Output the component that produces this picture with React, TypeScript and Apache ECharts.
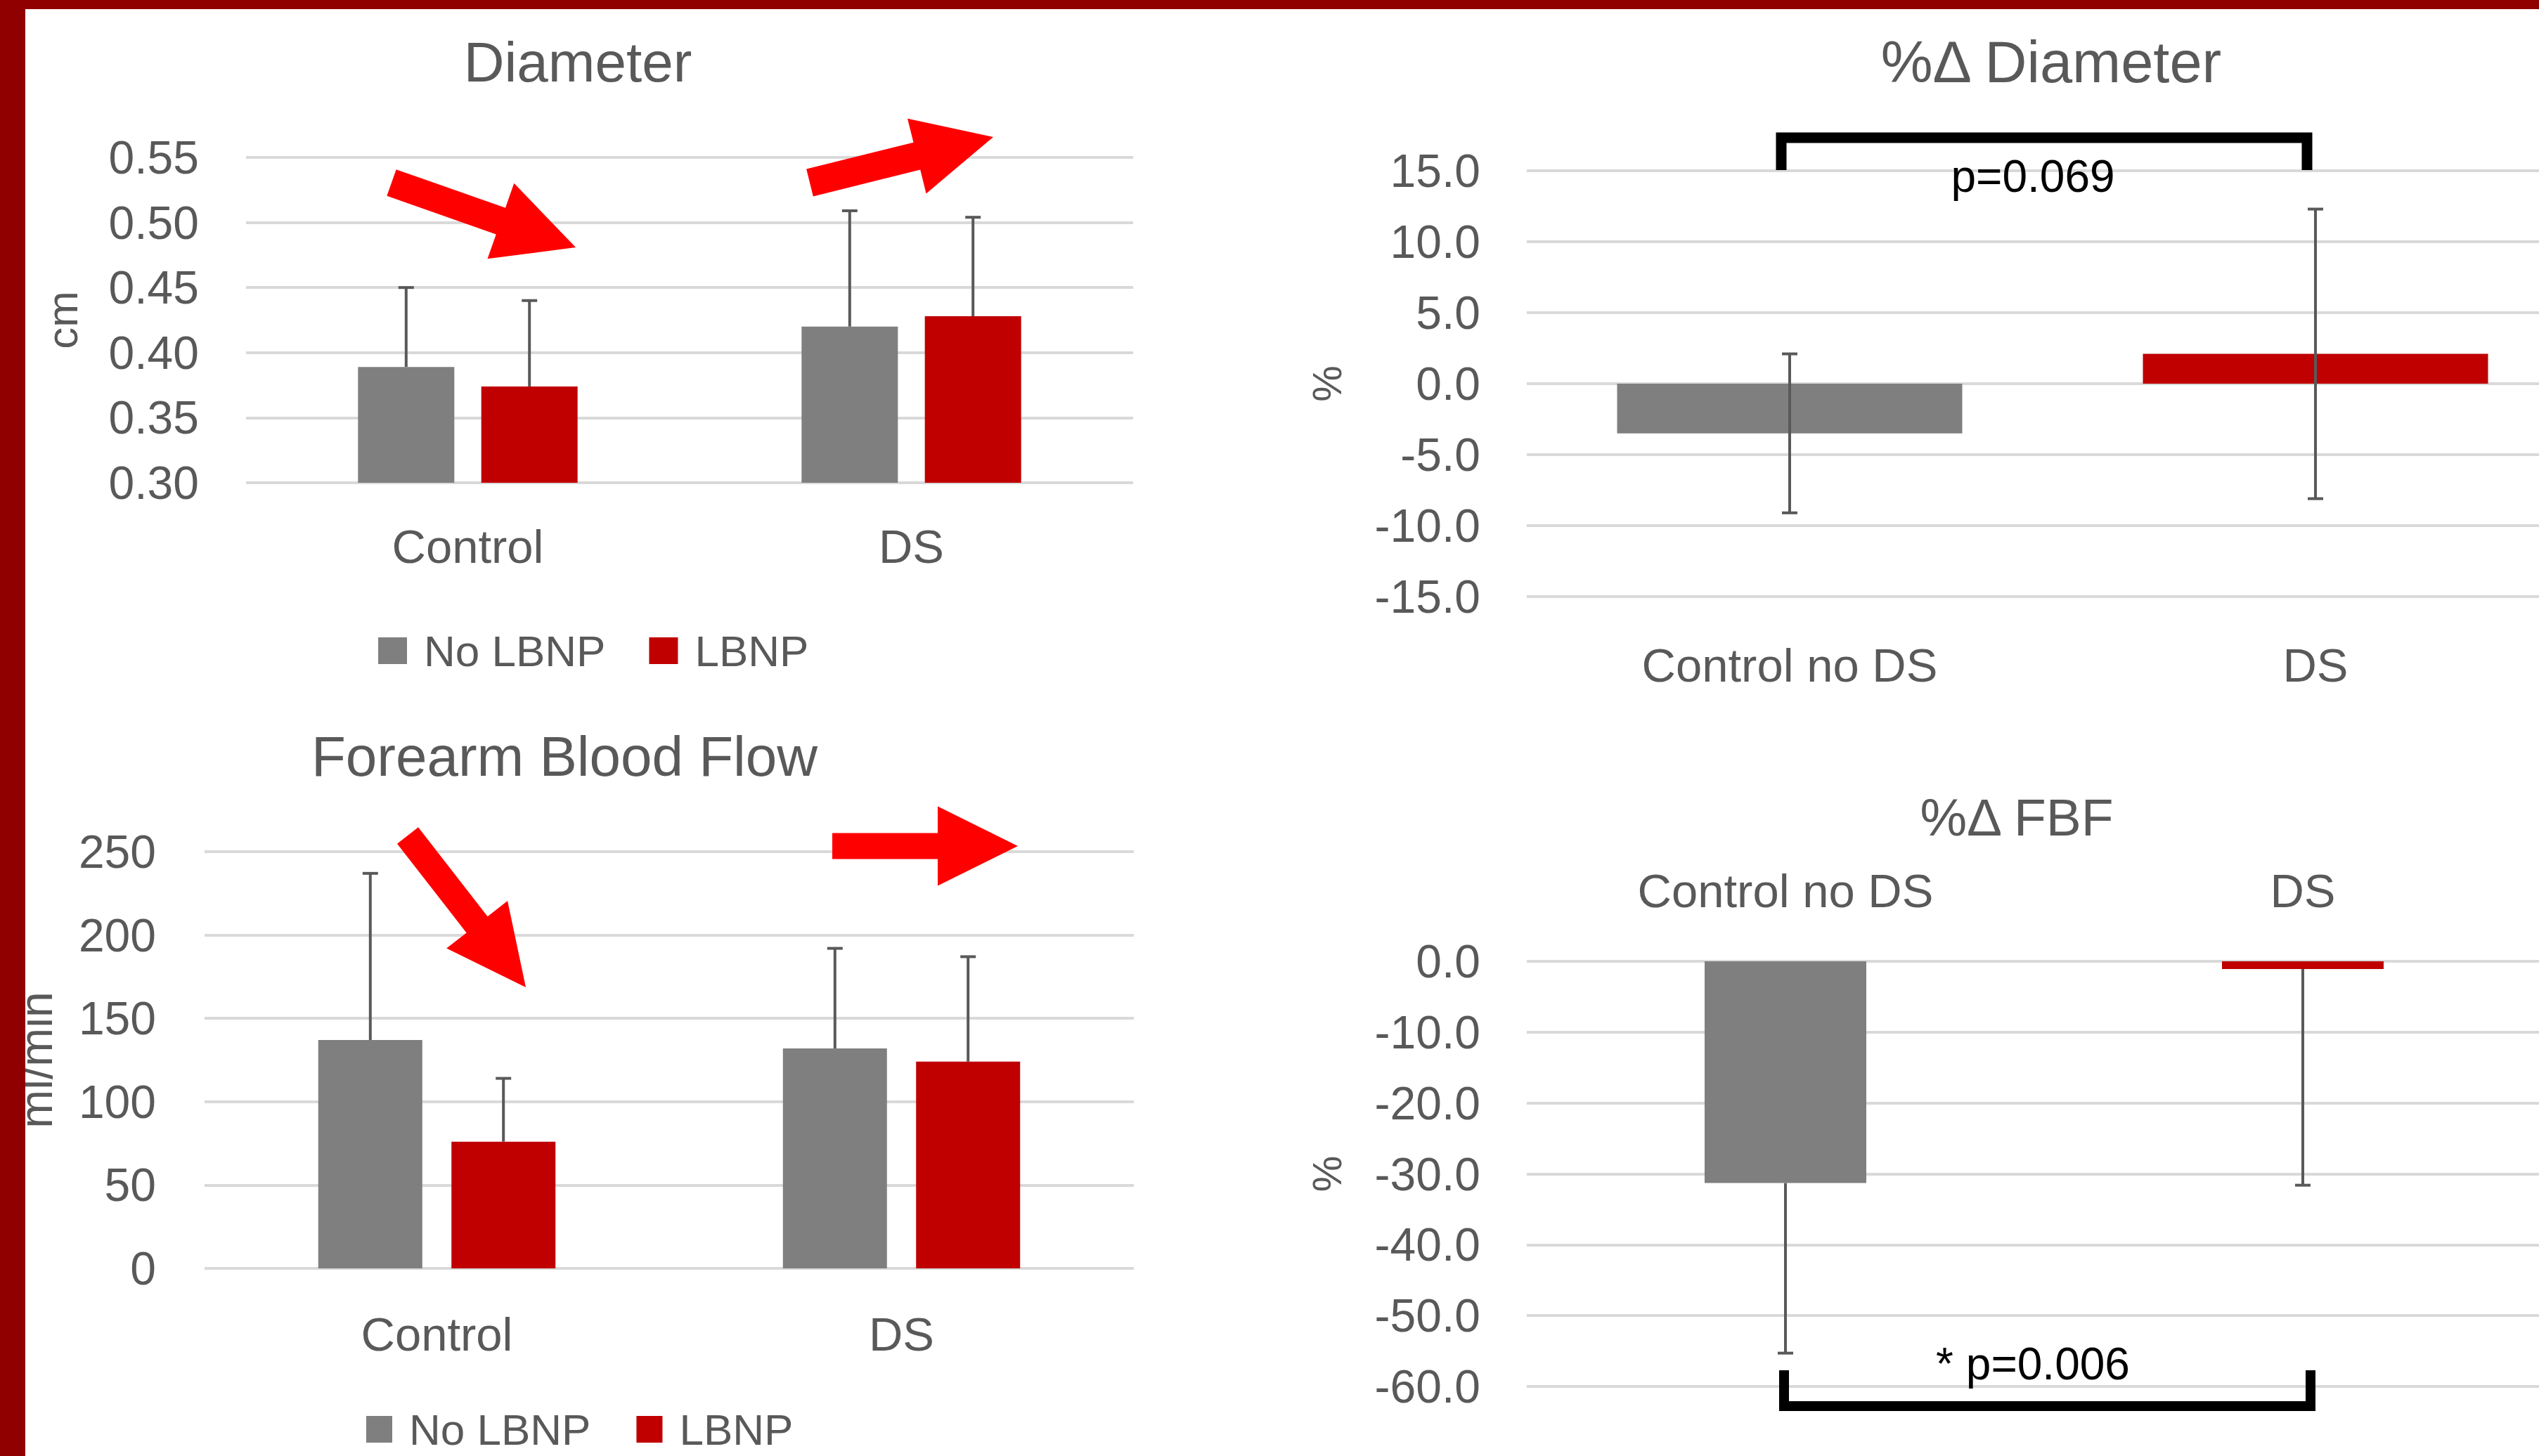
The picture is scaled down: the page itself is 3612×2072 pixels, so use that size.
import React, { useEffect, useRef } from "react";
import * as echarts from "echarts";

// ---------- data ----------
const groups = ["Control", "DS"];
const seriesNames = ["No LBNP", "LBNP"];

const diamNoLBNP = [0.389, 0.42];
const diamNoLBNPsd = [0.061, 0.089];
const diamLBNP = [0.374, 0.428];
const diamLBNPsd = [0.066, 0.076];

const fbfNoLBNP = [137, 132];
const fbfNoLBNPsd = [100, 60];
const fbfLBNP = [76, 124];
const fbfLBNPsd = [38, 63];

const pctGroups = ["Control no DS", "DS"];
const pctDiam = [-3.5, 2.1];
const pctDiamSd = [5.6, 10.2];
const pctFbf = [-31.3, -1.1];
const pctFbfSd = [24.0, 30.5];

const titles = ["Diameter", "%Δ Diameter", "Forearm Blood Flow", "%Δ FBF"];
const pTexts = ["p=0.069", "* p=0.006"];

// ---------- style ----------
const FONT = "Liberation Sans";
const GRAY = "#7F7F7F";
const RED = "#C00000";
const TXT = "#595959";
const GRIDC = "#D9D9D9";
const BORDER = "#900000";
const ARROW = "#FF0000";

function arrowPoints(tail: number[], tip: number[], shaftW: number, headW: number, headL: number) {
  const dx = tip[0] - tail[0];
  const dy = tip[1] - tail[1];
  const L = Math.hypot(dx, dy);
  const ux = dx / L, uy = dy / L;
  const px = -uy, py = ux;
  const bx = tip[0] - ux * headL, by = tip[1] - uy * headL;
  return [
    [tail[0] + (px * shaftW) / 2, tail[1] + (py * shaftW) / 2],
    [bx + (px * shaftW) / 2, by + (py * shaftW) / 2],
    [bx + (px * headW) / 2, by + (py * headW) / 2],
    [tip[0], tip[1]],
    [bx - (px * headW) / 2, by - (py * headW) / 2],
    [bx - (px * shaftW) / 2, by - (py * shaftW) / 2],
    [tail[0] - (px * shaftW) / 2, tail[1] - (py * shaftW) / 2],
  ];
}

function errSeries(axis: number, means: number[], sds: number[], offset: number, mode: string) {
  return {
    type: "custom",
    xAxisIndex: axis,
    yAxisIndex: axis,
    silent: true,
    z: 10,
    encode: { x: 0, y: 1 },
    data: means.map((m, i) => [i, m, sds[i]]),
    renderItem: (params: any, api: any) => {
      const i = api.value(0), m = api.value(1), s = api.value(2);
      const c = api.coord([i, m]);
      const x = c[0] + offset;
      const top = api.coord([i, m + s])[1];
      const bot = api.coord([i, m - s])[1];
      const st = { stroke: TXT, lineWidth: 4 };
      const cap = 11;
      const children: any[] = [];
      let y1 = c[1], y2 = c[1];
      if (mode === "up") { y1 = top; y2 = c[1]; }
      else if (mode === "down") { y1 = c[1]; y2 = bot; }
      else { y1 = top; y2 = bot; }
      children.push({ type: "line", shape: { x1: x, y1, x2: x, y2 }, style: st });
      if (mode !== "down") children.push({ type: "line", shape: { x1: x - cap, y1: top, x2: x + cap, y2: top }, style: st });
      if (mode !== "up") children.push({ type: "line", shape: { x1: x - cap, y1: bot, x2: x + cap, y2: bot }, style: st });
      return { type: "group", children };
    },
  };
}

function textEl(text: string, x: number, y: number, size: number, color: string) {
  return {
    type: "text",
    x,
    y,
    z: 50,
    style: {
      text,
      fill: color,
      fontSize: size,
      fontFamily: FONT,
      align: "center",
      verticalAlign: "middle",
      textAlign: "center",
      textVerticalAlign: "middle",
    },
  };
}

export default function App() {
  const ref = useRef<HTMLDivElement>(null);
  useEffect(() => {
    if (!ref.current) return;
    const chart = echarts.init(ref.current, null, { renderer: "svg" });

    const splitLine = { show: true, lineStyle: { color: GRIDC, width: 4 } };
    const valAxis = (gi: number, min: number, max: number, interval: number, dec: number, margin: number, name: string, nameGap: number, nameSize: number) => ({
      type: "value",
      gridIndex: gi,
      min,
      max,
      interval,
      axisLine: { show: false },
      axisTick: { show: false },
      splitLine,
      axisLabel: { fontSize: 66, color: TXT, margin, fontFamily: FONT, formatter: (v: number) => v.toFixed(dec) },
      name,
      nameLocation: "middle",
      nameRotate: 90,
      nameGap,
      nameTextStyle: { fontSize: nameSize, color: TXT, fontFamily: FONT },
    });
    const catAxis = (gi: number, data: string[], margin: number, position: string) => ({
      type: "category",
      gridIndex: gi,
      data,
      position,
      axisLine: { show: false },
      axisTick: { show: false },
      axisLabel: { fontSize: 67, color: TXT, margin, fontFamily: FONT },
    });

    const legendBase = {
      data: seriesNames,
      orient: "horizontal",
      icon: "rect",
      selectedMode: false,
      textStyle: { fontSize: 62, color: TXT, fontFamily: FONT, padding: [0, 0, 0, 19], lineHeight: 62 },
    };

    const arrows = [
      arrowPoints([557, 260], [819, 352], 40, 114, 113),
      arrowPoints([1152, 260], [1413, 195], 40, 110, 112),
      arrowPoints([580, 1189], [748, 1405], 38, 110, 113),
      arrowPoints([1184, 1204], [1448, 1204], 37, 113, 114),
    ];

    const option: any = {
      animation: false,
      backgroundColor: "#FFFFFF",
      textStyle: { fontFamily: FONT },
      grid: [
        { left: 350, top: 224, width: 1262, height: 463 },
        { left: 2172, top: 243, width: 1496, height: 606 },
        { left: 291, top: 1212, width: 1322, height: 593 },
        { left: 2172, top: 1368, width: 1472, height: 605 },
      ],
      xAxis: [
        catAxis(0, groups, 57, "bottom"),
        catAxis(1, pctGroups, 64, "bottom"),
        catAxis(2, groups, 60, "bottom"),
        catAxis(3, pctGroups, 67, "top"),
      ],
      yAxis: [
        valAxis(0, 0.3, 0.55, 0.05, 2, 67, "cm", 231, 62),
        valAxis(1, -15, 15, 5, 1, 66, "%", 256, 58),
        valAxis(2, 0, 250, 50, 0, 69, "ml/min", 207, 66),
        valAxis(3, -60, 0, 10, 1, 66, "%", 256, 58),
      ],
      legend: [
        { ...legendBase, left: 533, top: 890, itemWidth: 41, itemHeight: 38, itemGap: 62 },
        { ...legendBase, left: 516, top: 1998, itemWidth: 37, itemHeight: 38, itemGap: 65 },
      ],
      series: [
        { type: "bar", name: seriesNames[0], xAxisIndex: 0, yAxisIndex: 0, data: diamNoLBNP, barWidth: 137, barGap: "28%", itemStyle: { color: GRAY } },
        { type: "bar", name: seriesNames[1], xAxisIndex: 0, yAxisIndex: 0, data: diamLBNP, barWidth: 137, barGap: "28%", itemStyle: { color: RED } },
        errSeries(0, diamNoLBNP, diamNoLBNPsd, -87.7, "up"),
        errSeries(0, diamLBNP, diamLBNPsd, 87.7, "up"),

        { type: "bar", name: "pctDiam", xAxisIndex: 1, yAxisIndex: 1, barWidth: 491, data: pctDiam.map((v, i) => ({ value: v, itemStyle: { color: i === 0 ? GRAY : RED } })) },
        errSeries(1, pctDiam, pctDiamSd, 0, "both"),

        { type: "bar", name: seriesNames[0], xAxisIndex: 2, yAxisIndex: 2, data: fbfNoLBNP, barWidth: 148, barGap: "28%", itemStyle: { color: GRAY } },
        { type: "bar", name: seriesNames[1], xAxisIndex: 2, yAxisIndex: 2, data: fbfLBNP, barWidth: 148, barGap: "28%", itemStyle: { color: RED } },
        errSeries(2, fbfNoLBNP, fbfNoLBNPsd, -94.7, "up"),
        errSeries(2, fbfLBNP, fbfLBNPsd, 94.7, "up"),

        { type: "bar", name: "pctFbf", xAxisIndex: 3, yAxisIndex: 3, barWidth: 230, data: pctFbf.map((v, i) => ({ value: v, itemStyle: { color: i === 0 ? GRAY : RED } })) },
        errSeries(3, pctFbf, pctFbfSd, 0, "down"),
      ],
      graphic: [
        textEl(titles[0], 822, 88, 80, TXT),
        textEl(titles[1], 2918, 88, 83, TXT),
        textEl(titles[2], 803, 1076, 80, TXT),
        textEl(titles[3], 2869, 1163, 75, TXT),
        textEl(pTexts[0], 2892, 251, 64, "#000000"),
        textEl(pTexts[1], 2892, 1941, 64, "#000000"),
        {
          type: "polyline",
          z: 60,
          shape: { points: [[2534, 242], [2534, 196], [3282, 196], [3282, 242]] },
          style: { stroke: "#000000", lineWidth: 15, fill: null, lineJoin: "miter", lineCap: "butt" },
        },
        {
          type: "polyline",
          z: 60,
          shape: { points: [[2538, 1950], [2538, 2001], [3287, 2001], [3287, 1950]] },
          style: { stroke: "#000000", lineWidth: 14, fill: null, lineJoin: "miter", lineCap: "butt" },
        },
        ...arrows.map((pts) => ({ type: "polygon", z: 70, shape: { points: pts }, style: { fill: ARROW } })),
        { type: "rect", z: 100, shape: { x: 0, y: 0, width: 36, height: 2072 }, style: { fill: BORDER } },
        { type: "rect", z: 100, shape: { x: 0, y: 0, width: 3700, height: 13 }, style: { fill: BORDER } },
      ],
    };
    chart.setOption(option);
    return () => chart.dispose();
  }, []);
  return (
    <div style={{ position: "fixed", left: 0, top: 0, width: 3612, height: 2072, overflow: "hidden" }}>
      <div ref={ref} style={{ position: "absolute", left: 0, top: 0, width: 3700, height: 2072 }} />
    </div>
  );
}
